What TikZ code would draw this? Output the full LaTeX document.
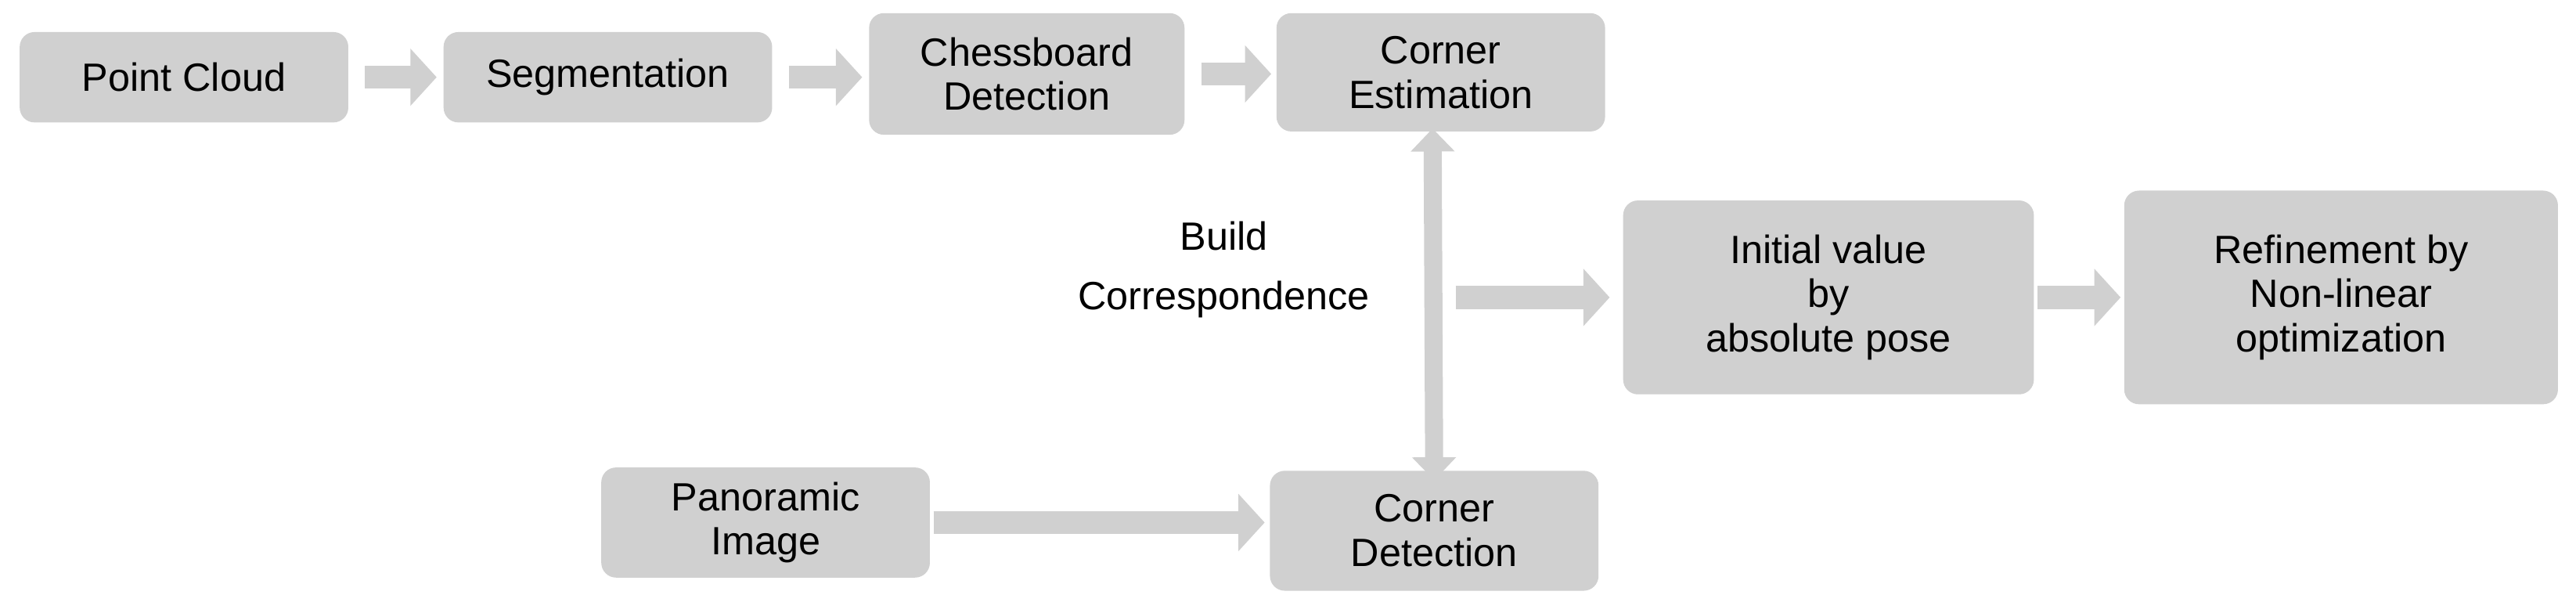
\documentclass[tikz,border=0pt]{standalone}
\usepackage{fontspec}
\setmainfont{Liberation Sans}
\usetikzlibrary{arrows.meta}
\definecolor{boxg}{HTML}{D0D0D0}
\begin{document}
\begin{tikzpicture}[x=1pt,y=-1pt,
  box/.style={fill=boxg,draw=none,rounded corners=9pt,align=center,font=\fontsize{24}{27}\selectfont,inner sep=0pt},
  blk/.style={draw=boxg,line width=14pt,-{Triangle[length=16pt,width=34pt]}},
  dblk/.style={draw=boxg,line width=11pt,{Triangle[length=14pt,width=26pt]}-{Triangle[length=14pt,width=26pt]}}]
\useasboundingbox (0,0) rectangle (1568,373);
\node[box,minimum width=200pt,minimum height=55pt] (pc) at (112,47) {Point Cloud};
\node[box,minimum width=200pt,minimum height=55pt] (seg) at (370,47) {Segmentation};
\node[box,minimum width=192pt,minimum height=74pt] (cb) at (625,45) {Chessboard\\Detection};
\node[box,minimum width=200pt,minimum height=72pt] (ce) at (877,44) {Corner\\Estimation};
\node[box,minimum width=250pt,minimum height=118pt] (iv) at (1113,181) {Initial value\\by\\absolute pose};
\node[box,minimum width=264pt,minimum height=130pt] (rf) at (1425,181) {Refinement by\\Non-linear\\optimization};
\node[box,minimum width=200pt,minimum height=67pt] (pi) at (466,318) {Panoramic\\Image};
\node[box,minimum width=200pt,minimum height=73pt] (cd) at (873,323) {Corner\\Detection};
\node[align=center,font=\fontsize{24}{36}\selectfont] (bc) at (745,164) {Build\\Correspondence};
\coordinate (hs) at (886,181);
\draw[blk] (pc.east)++(10,0) -- ([xshift=-4pt]seg.west);
\draw[blk] (seg.east)++(10,0) -- ([xshift=-4pt]cb.west|-seg.east);
\draw[blk] (cb.east)++(10,0) -- ([xshift=-3pt]ce.west|-cb.east);
\draw[dblk] ([xshift=-5pt,yshift=2pt]ce.south) -- ([yshift=-6pt]cd.north);
\draw[blk] (hs) -- ([xshift=-8pt]iv.west);
\draw[blk] ([xshift=2pt]iv.east) -- ([xshift=-2pt]rf.west);
\draw[blk] ([xshift=2pt]pi.east) -- ([xshift=-3pt]cd.west|-pi.east);
\end{tikzpicture}
\end{document}
